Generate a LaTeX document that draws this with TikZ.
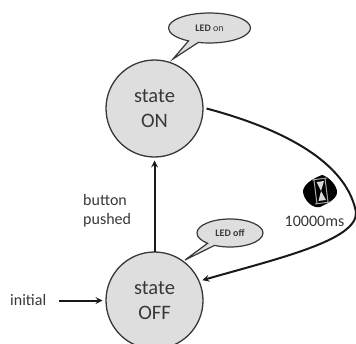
\documentclass[tikz,border=0pt]{standalone}
\usepackage{fontspec}
\setmainfont{Carlito}
\usepackage{tikz}
\usetikzlibrary{shapes.callouts}
\definecolor{stateGray}{gray}{0.87}
\definecolor{inkGray}{gray}{0.22}
\tikzset{
  stateNode/.style={circle, draw=inkGray, line width=1.3pt, fill=stateGray, minimum size=97pt, inner sep=0pt, outer sep=3.5pt, align=center, font=\fontsize{20.5}{25}\selectfont, text=inkGray},
  ledNode/.style={ellipse callout, draw=inkGray, line width=1.2pt, fill=stateGray, inner sep=0pt, font=\fontsize{10}{12}\selectfont, text=inkGray},
  labelNode/.style={align=left, inner sep=0pt, font=\fontsize{16}{19}\selectfont, text=inkGray},
  flow/.style={line width=2pt, draw=black!90, -stealth}
}
\begin{document}
\begin{tikzpicture}[x=1pt, y=-1pt]
      \path[use as bounding box, clip] (0, 0) rectangle (356, 343);

      \node[stateNode](On) at (154.5, 108.5) {state\\ON};
      \node[stateNode](Off) at (154.5, 300.5) {state\\OFF};

      \node[ledNode, minimum width=82pt, minimum height=30pt, callout absolute pointer={(173, 59)}](LedOn) at (209.5, 28) {\textbf{LED} on};
      \node[ledNode, minimum width=66pt, minimum height=28pt, callout absolute pointer={(185, 260)}](LedOff) at (230, 233) {\textbf{LED off}};

      \node[labelNode, anchor=west](Initial) at (10, 300) {initial};
      \node[labelNode, anchor=west](Pushed) at (83, 211) {button\\pushed};
      \node[labelNode](Timeout) at (314.5, 221) {10000ms};

      \coordinate(InitialEnd) at (59, 300.5);
      \draw[flow] (InitialEnd) -- (Off.west |- InitialEnd);
      \draw[flow, shorten <=-3.5pt] (Off.north) -- (On.south);
      \draw[flow] (On.east) .. controls (265, 124) and (345, 155) .. (356, 212)
                  .. controls (358, 240) and (280, 258) .. (Off.23);

      % hourglass on its black blot
      \fill[black] (322, 175) .. controls (328, 176) and (338, 186) .. (337, 193)
                   .. controls (336, 200) and (326, 204) .. (320, 207)
                   .. controls (312, 209) and (303, 199) .. (303, 191)
                   .. controls (304, 184) and (312, 179) .. (322, 175) -- cycle;
      \draw[gray!70, line width=1pt] (312, 180) -- (327, 178) (315, 204) -- (330, 202)
                                     (314, 180) -- (317, 204) (325, 178) -- (328, 202);
      \fill[white!85!black] (316.5, 182) -- (324, 181) -- (321, 191) -- (326, 200) -- (318.5, 201) -- (321, 191) -- cycle;
\end{tikzpicture}
\end{document}
